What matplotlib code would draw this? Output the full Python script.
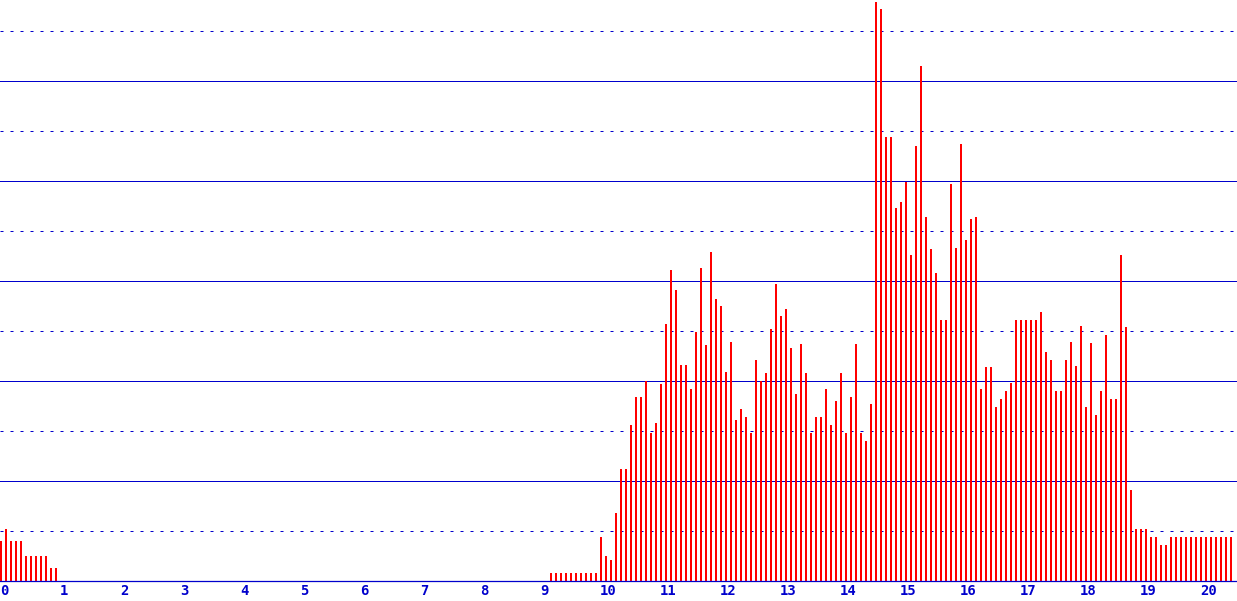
"""Red needle histogram over 5-minute slots, 0..20.5 on the x axis."""
import matplotlib

matplotlib.use("Agg")
import matplotlib.pyplot as plt
import numpy as np

# one bar every 1/12 unit
slot_step = 1 / 12
early = [4.0, 5.2, 4.0, 4.0, 4.0, 2.5, 2.5, 2.5, 2.5, 2.5, 1.3, 1.3]
gap = [0.0] * 98
rise = [0.8] * 10 + [4.4, 2.5, 2.1, 6.8, 11.2, 11.2, 15.6, 18.4, 18.4, 20.0,
                     14.8, 15.8, 19.7, 25.7, 31.1, 29.1, 21.6, 21.6, 19.2, 24.9,
                     31.3, 23.6, 32.9, 28.2, 27.5, 20.9, 23.9, 16.1, 17.2, 16.4]
middle = [14.8, 22.1, 20.0, 20.8, 25.2, 29.7, 26.5, 27.2, 23.3, 18.7,
          23.7, 20.8, 14.8, 16.4, 16.4, 19.2, 15.6, 18.0, 20.8, 14.8,
          18.4, 23.7, 14.8, 14.0, 17.7]
peak = [57.9, 57.2, 44.4, 44.4, 37.3, 37.9, 39.9, 32.6, 43.5, 51.5,
        36.4, 33.2, 30.8, 26.1, 26.1, 39.7, 33.3, 43.7, 34.1, 36.2,
        36.4, 19.2, 21.4, 21.4]
late = [17.4, 18.2, 19.0, 19.8, 26.1, 26.1, 26.1, 26.1, 26.1, 26.9,
        22.9, 22.1, 19.0, 19.0, 22.1, 23.9, 21.5, 25.5, 17.4, 23.8,
        16.6, 19.0, 24.6, 18.2, 18.2, 32.6, 25.4, 9.1]
tail = [5.2, 5.2, 5.2, 4.4, 4.4, 3.6, 3.6] + [4.4] * 13

values = np.array(early + gap + rise + middle + peak + late + tail)
slots = np.arange(len(values)) * slot_step
tick_values = list(range(0, 21))

BLUE = "#0000cc"
RED = "#ff0000"


def main():
    fig = plt.figure(figsize=(12.37, 6.01), dpi=100)
    ax = fig.add_axes([0, 20 / 601, 1, 581 / 601])
    px = 1 / 60  # one pixel in x units

    # grid: solid every 10, dashed in between
    for y in range(5, 60, 5):
        if y % 10 == 0:
            ax.axhline(y, color=BLUE, lw=0.72, zorder=1)
        else:
            ax.axhline(y, color=BLUE, lw=0.72, ls=(0, (3, 7)), zorder=1)

    ax.bar(slots, values, width=2.2 * px, align="edge", color=RED,
           linewidth=0, antialiased=False, zorder=2)

    ax.set_xlim(0, 1237 * px)
    ax.set_ylim(0, 58.1)
    ax.set_yticks([])
    ax.set_xticks(tick_values)
    ax.set_xticklabels([str(t) for t in tick_values], color=BLUE,
                       family="DejaVu Sans Mono", weight="bold", fontsize=10,
                       ha="left")
    ax.tick_params(axis="x", length=0, pad=2)
    for side in ("top", "right", "left"):
        ax.spines[side].set_visible(False)
    ax.spines["bottom"].set_color(BLUE)
    ax.spines["bottom"].set_linewidth(0.9)
    ax.spines["bottom"].set_zorder(3)

    fig.savefig("out.png", dpi=100, facecolor="white")
    plt.close(fig)


if __name__ == "__main__":
    main()
